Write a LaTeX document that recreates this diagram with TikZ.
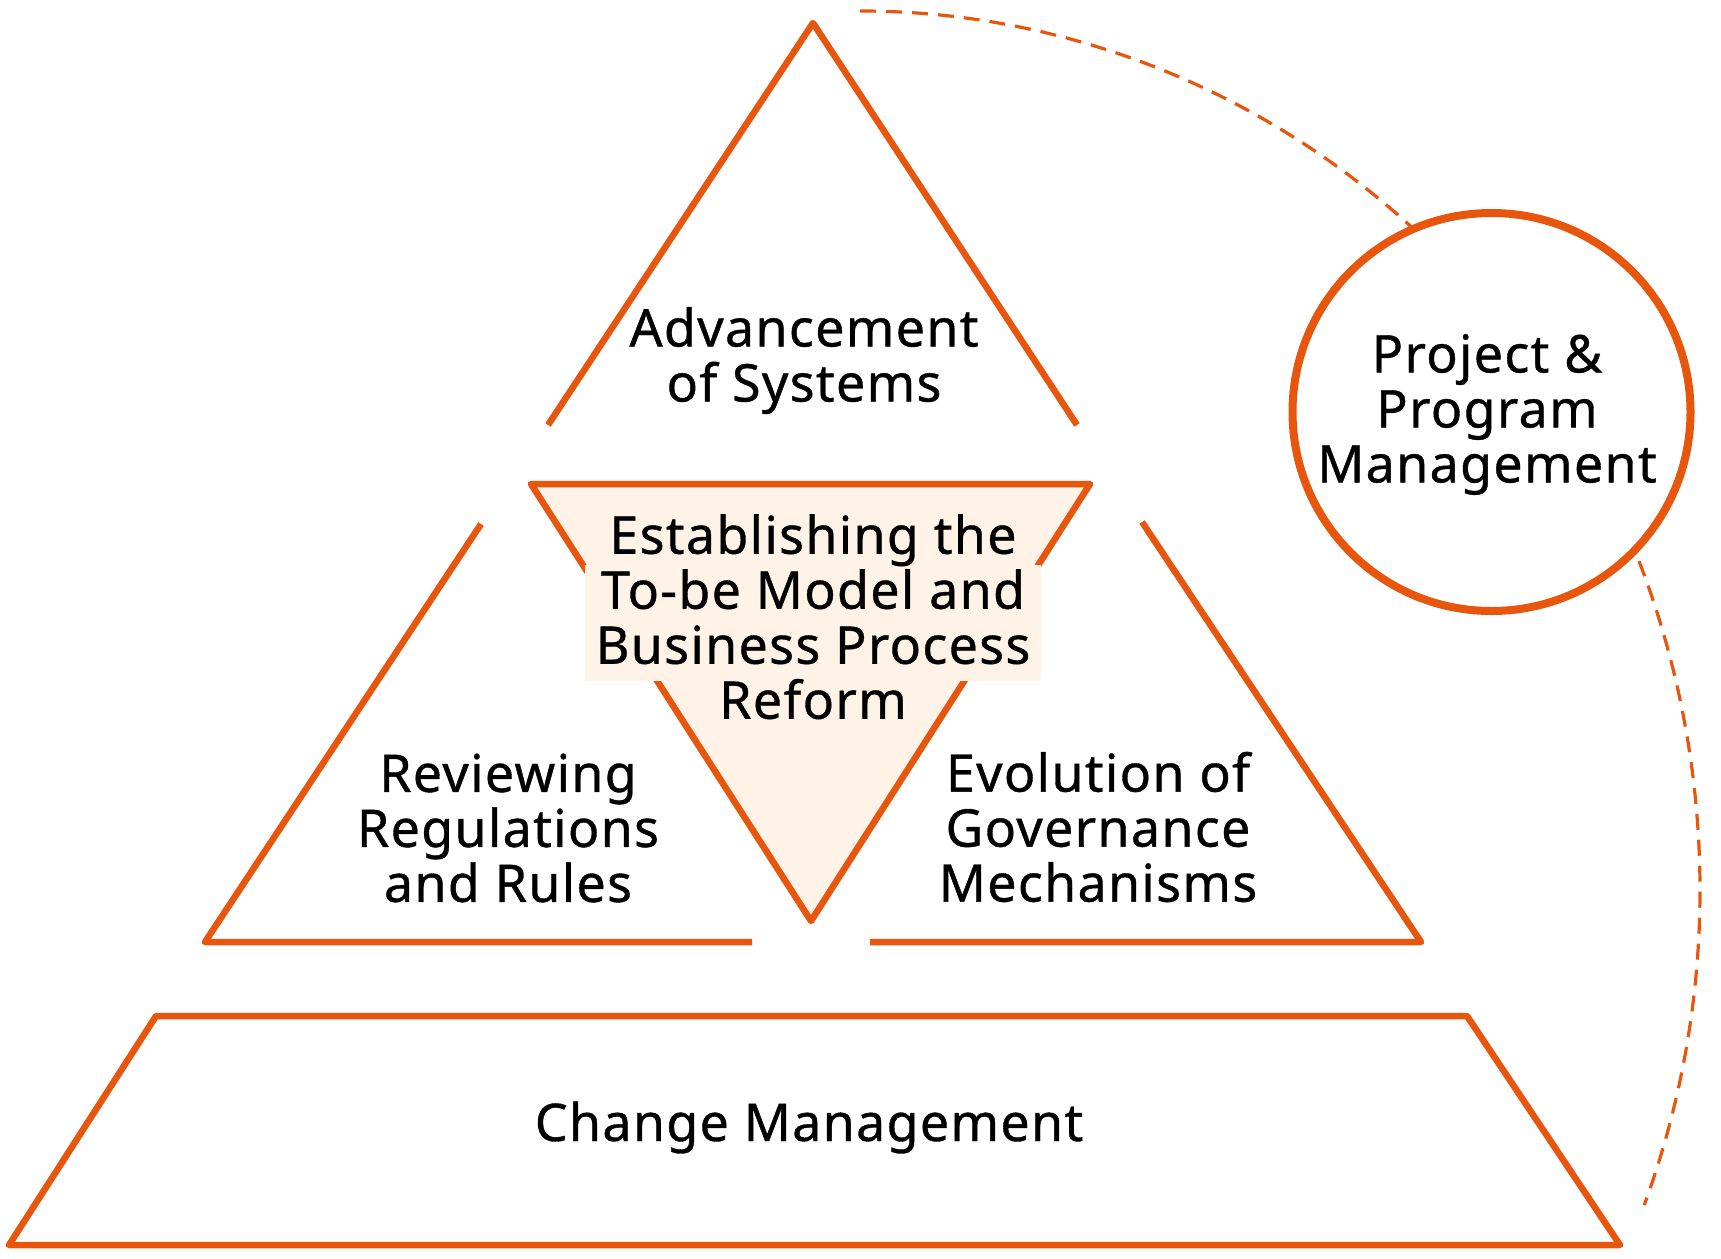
\documentclass[tikz,border=0pt]{standalone}
\usepackage{fontspec}
\setmainfont{Noto Sans}[LetterSpace=2.5,FakeBold=0.7]
\definecolor{orng}{RGB}{232,85,12}
\definecolor{peach}{RGB}{254,243,230}
\begin{document}
\begin{tikzpicture}[x=1pt,y=-1pt,
  shapeline/.style={draw=orng,line width=6.5pt,line join=round},
  lbl/.style={font=\fontsize{52}{55}\selectfont,align=center,inner sep=0pt,text=black}]
\useasboundingbox (0,0) rectangle (1721,1258);
% dashed arc around the pyramid
\draw[orng,line width=3.2pt,dash pattern=on 16pt off 10pt]
  (860,11) arc[start angle=-90,end angle=21,x radius=840,y radius=879];
% circle
\node[circle,draw=orng,line width=8pt,fill=white,minimum size=398pt,inner sep=0pt] (pm) at (1491.5,412) {};
% top triangle
\draw[shapeline] (548,425) -- (813,23) -- (1077,425);
% left triangle
\draw[shapeline] (481,524) -- (205,942) -- (752,942);
% right triangle
\draw[shapeline] (1142,522) -- (1421,942) -- (870,942);
% inverted central triangle
\draw[shapeline,fill=peach] (531,484) -- (1090,484) -- (811,921) -- cycle;
\fill[peach] (585,565) rectangle (1041,681);
% trapezoid
\draw[shapeline] (156,1016) -- (1467,1016) -- (1620,1245) -- (9,1245) -- cycle;
% labels
\node[lbl] (adv) at (804,360.5) {Advancement\\of Systems};
\node[lbl] (est) at (813,616.75) {Establishing the\\To-be Model and\\Business Process\\Reform};
\node[lbl] (rev) at (508,828) {Reviewing\\Regulations\\and Rules};
\node[lbl] (evo) at (1098,827) {Evolution of\\Governance\\Mechanisms};
\node[lbl] (pmt) at (1487,414.5) {Project \&\\Program\\Management};
\node[lbl,anchor=base] (chg) at (809,1141) {Change Management};
\end{tikzpicture}
\end{document}
